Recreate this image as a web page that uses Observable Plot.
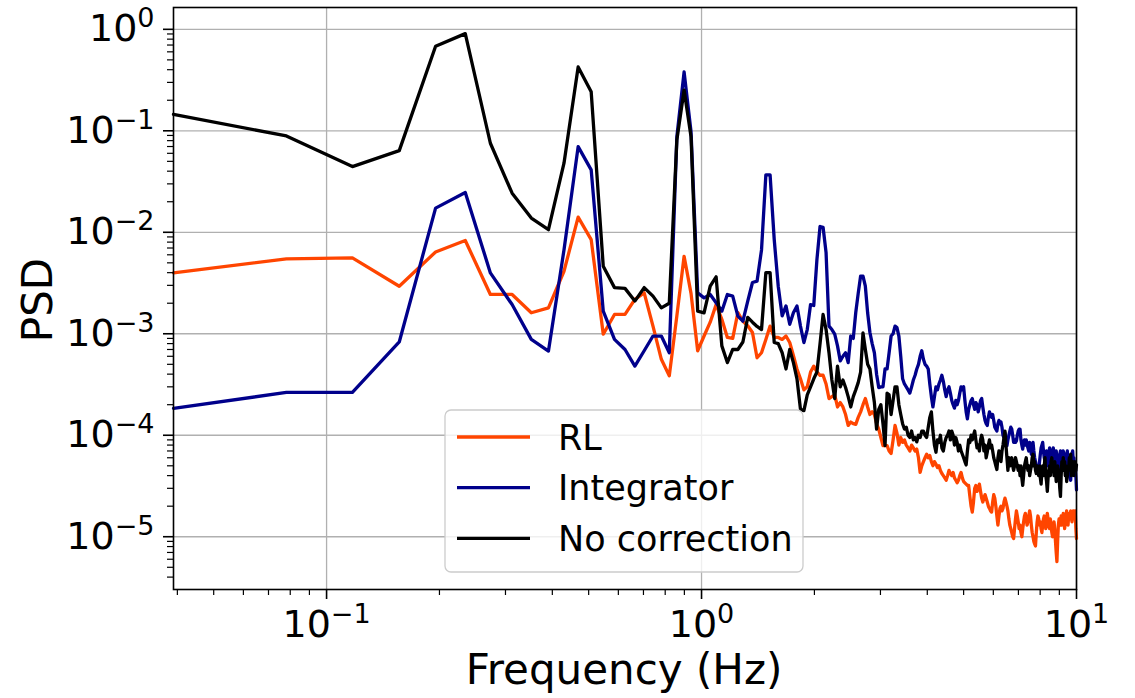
<!DOCTYPE html>
<html><head><meta charset="utf-8">
<script src="https://cdn.jsdelivr.net/npm/d3@7"></script>
<script src="https://cdn.jsdelivr.net/npm/@observablehq/plot@0.6"></script>
<style>
body{margin:0;background:#fff}
#chart{position:relative;width:1135px;height:698px}
</style>
</head><body><div id="chart"></div>
<script>
// frequency resolution of the PSD bins (Hz); bins k = 1..256
const df = 0.0390625;

const seriesNames = ["RL", "Integrator", "No correction"];
const seriesColors = ["#ff4500", "#00008b", "#000000"];
const xMajorTicks = [0.1, 1, 10];
const xMinorTicks = [0.04,0.05,0.06,0.07,0.08,0.09,0.2,0.3,0.4,0.5,0.6,0.7,0.8,0.9,2,3,4,5,6,7,8,9];
const yMajorTicks = [1, 1e-1, 1e-2, 1e-3, 1e-4, 1e-5];
const yMinorTicks = [4e-6,5e-6,6e-6,7e-6,8e-6,9e-6,2e-5,3e-5,4e-5,5e-5,6e-5,7e-5,8e-5,9e-5,2e-4,3e-4,4e-4,5e-4,6e-4,7e-4,8e-4,9e-4,2e-3,3e-3,4e-3,5e-3,6e-3,7e-3,8e-3,9e-3,0.02,0.03,0.04,0.05,0.06,0.07,0.08,0.09,0.2,0.3,0.4,0.5,0.6,0.7,0.8,0.9];

const rl = [
3.98e-3,5.47e-3,5.59e-3,2.94e-3,6.4e-3,8.3e-3,2.44e-3,2.44e-3,1.61e-3,1.8e-3,
4.13e-3,1.41e-2,8.46e-3,9.9e-4,1.55e-3,1.55e-3,2.18e-3,2.53e-3,1.19e-3,5.6e-4,
3.85e-4,1.5e-3,5.8e-3,2.5e-3,6.8e-4,9.5e-4,1.3e-3,1.94e-3,1.39e-3,9.2e-4,
9.0e-4,1.62e-3,1.33e-3,1.2e-3,1.03e-3,5.8e-4,6.5e-4,8.8e-4,1.19e-3,9.2e-4,
9.2e-4,8.8e-4,9.5e-4,8.2e-4,6.1e-4,4.5e-4,3.6e-4,2.8e-4,3.0e-4,4.2e-4,
4.8e-4,4.2e-4,3.9e-4,3.9e-4,3.2e-4,2.3e-4,2.4e-4,2.5e-4,1.9e-4,2.1e-4,
1.9e-4,1.6e-4,1.25e-4,1.35e-4,1.3e-4,1.28e-4,1.5e-4,1.7e-4,2.0e-4,2.3e-4,
1.9e-4,1.6e-4,1.7e-4,1.6e-4,1.3e-4,1.15e-4,9.5e-5,7.9e-5,7.9e-5,7.9e-5,
7.0e-5,6.6e-5,9.0e-5,1.25e-4,1.05e-4,8.0e-5,9.5e-5,8.5e-5,9.0e-5,8.0e-5,
7.5e-5,7.0e-5,8.0e-5,7.5e-5,7.0e-5,7.3e-5,6.0e-5,4.3e-5,5.0e-5,5.5e-5,
6.0e-5,6.5e-5,6.0e-5,6.3e-5,5.5e-5,5.0e-5,5.5e-5,5.2e-5,4.8e-5,5.0e-5,
4.5e-5,4.2e-5,4.0e-5,3.8e-5,3.6e-5,4.0e-5,4.5e-5,4.2e-5,4.0e-5,4.3e-5,
3.8e-5,3.6e-5,3.4e-5,3.6e-5,4.0e-5,4.3e-5,3.8e-5,3.5e-5,3.4e-5,3.3e-5,
3.2e-5,3.2e-5,2.5e-5,2.0e-5,1.75e-5,2.2e-5,3.0e-5,3.2e-5,2.8e-5,3.0e-5,
3.3e-5,2.8e-5,2.4e-5,2.2e-5,2.4e-5,2.6e-5,2.4e-5,2.2e-5,2.0e-5,1.9e-5,
1.8e-5,1.75e-5,2.2e-5,2.6e-5,2.4e-5,2.0e-5,1.6e-5,1.3e-5,1.6e-5,1.9e-5,
2.0e-5,1.8e-5,1.9e-5,2.2e-5,2.4e-5,2.2e-5,2.0e-5,1.8e-5,1.5e-5,1.3e-5,
1.2e-5,1.1e-5,1.0e-5,9.6e-6,1.2e-5,1.5e-5,1.8e-5,1.6e-5,1.4e-5,1.2e-5,
1.3e-5,1.1e-5,1.0e-5,1.2e-5,1.4e-5,1.6e-5,1.7e-5,1.5e-5,1.3e-5,1.4e-5,
1.6e-5,1.8e-5,1.6e-5,1.3e-5,1.1e-5,1.0e-5,9.0e-6,8.5e-6,8.1e-6,1.1e-5,
1.4e-5,1.6e-5,1.5e-5,1.3e-5,1.4e-5,1.2e-5,1.1e-5,1.3e-5,1.5e-5,1.6e-5,
1.4e-5,1.2e-5,1.5e-5,1.7e-5,1.5e-5,1.3e-5,1.2e-5,1.5e-5,1.3e-5,1.1e-5,
1.0e-5,1.2e-5,1.4e-5,1.2e-5,9.0e-6,7.0e-6,5.7e-6,9.0e-6,1.3e-5,1.5e-5,
1.3e-5,1.4e-5,1.6e-5,1.3e-5,1.5e-5,1.7e-5,1.5e-5,1.2e-5,1.4e-5,1.6e-5,
1.8e-5,1.5e-5,1.3e-5,1.6e-5,1.7e-5,1.5e-5,1.8e-5,1.6e-5,1.4e-5,1.7e-5,
1.8e-5,1.5e-5,1.7e-5,1.8e-5,1.2e-5,9.6e-6
];

const integrator = [
1.84e-4,2.64e-4,2.64e-4,8.3e-4,1.73e-2,2.47e-2,3.98e-3,1.94e-3,8.8e-4,6.76e-4,
6.7e-3,6.98e-2,4.12e-2,1.67e-3,8.8e-4,7.0e-4,4.8e-4,6.8e-4,9.5e-4,9.5e-4,
6.5e-4,8.75e-2,3.81e-1,9.8e-2,2.53e-3,2.26e-3,2.44e-3,2.02e-3,1.67e-3,2.44e-3,
2.35e-3,1.49e-3,1.33e-3,2.1e-3,3.2e-3,3.3e-3,6.7e-3,3.68e-2,3.68e-2,8.5e-3,
2.94e-3,1.5e-3,1.88e-3,1.24e-3,1.61e-3,1.88e-3,1.19e-3,8.2e-4,1.1e-3,1.94e-3,
1.9e-3,5.4e-3,1.14e-2,1.12e-2,6.3e-3,1.19e-3,1.1e-3,9.9e-4,7.6e-4,5.4e-4,
6.0e-4,6.5e-4,5.2e-4,9.5e-4,9.0e-4,1.62e-3,2.5e-3,3.7e-3,3.7e-3,2.94e-3,
1.6e-3,1.03e-3,8.0e-4,6.5e-4,4.0e-4,2.95e-4,3.0e-4,3.0e-4,4.5e-4,4.5e-4,
6.5e-4,9.5e-4,1.0e-3,1.19e-3,1.15e-3,9.5e-4,6.0e-4,3.6e-4,3.2e-4,3.0e-4,
2.8e-4,2.6e-4,3.0e-4,3.5e-4,3.9e-4,4.5e-4,5.0e-4,6.0e-4,6.8e-4,5.6e-4,
5.0e-4,4.8e-4,4.5e-4,3.2e-4,2.4e-4,1.9e-4,2.4e-4,3.0e-4,2.8e-4,3.2e-4,
3.5e-4,3.9e-4,3.4e-4,2.8e-4,2.4e-4,2.8e-4,3.0e-4,2.6e-4,2.2e-4,2.0e-4,
1.85e-4,2.2e-4,2.0e-4,2.2e-4,2.6e-4,3.0e-4,2.8e-4,3.0e-4,2.2e-4,1.7e-4,
1.45e-4,1.8e-4,2.0e-4,2.2e-4,2.3e-4,2.0e-4,1.8e-4,2.1e-4,2.0e-4,1.7e-4,
1.9e-4,2.2e-4,2.3e-4,1.9e-4,1.6e-4,1.4e-4,1.3e-4,1.25e-4,1.5e-4,1.7e-4,
1.6e-4,1.5e-4,1.6e-4,1.4e-4,1.2e-4,1.15e-4,1.1e-4,1.3e-4,1.4e-4,1.3e-4,
1.35e-4,1.2e-4,1.0e-4,9.5e-5,1.05e-4,9.0e-5,7.9e-5,9.0e-5,1.0e-4,1.1e-4,
1.2e-4,1.15e-4,1.0e-4,8.5e-5,9.0e-5,8.5e-5,8.8e-5,1.0e-4,1.1e-4,1.15e-4,
1.15e-4,9.0e-5,8.0e-5,7.3e-5,8.5e-5,9.0e-5,8.0e-5,9.0e-5,8.0e-5,7.5e-5,
7.0e-5,8.5e-5,7.5e-5,6.5e-5,7.5e-5,8.5e-5,7.0e-5,6.0e-5,5.5e-5,5.0e-5,
4.6e-5,4.5e-5,4.3e-5,5.5e-5,6.5e-5,7.5e-5,8.0e-5,8.5e-5,7.0e-5,6.0e-5,
5.5e-5,6.5e-5,7.0e-5,6.0e-5,5.0e-5,6.0e-5,7.5e-5,7.0e-5,6.0e-5,5.5e-5,
6.5e-5,7.5e-5,6.5e-5,5.5e-5,6.0e-5,7.0e-5,6.0e-5,5.0e-5,4.5e-5,5.5e-5,
6.5e-5,7.0e-5,6.0e-5,5.0e-5,6.0e-5,7.0e-5,6.5e-5,5.5e-5,4.5e-5,5.0e-5,
6.5e-5,7.0e-5,5.0e-5,4.5e-5,4.0e-5,3.8e-5,3.6e-5,5.0e-5,6.5e-5,7.0e-5,
5.5e-5,6.0e-5,4.5e-5,5.5e-5,4.0e-5,2.9e-5
];

const noCorrection = [
1.45e-1,8.9e-2,4.44e-2,6.38e-2,6.8e-1,9.07e-1,7.54e-2,2.43e-2,1.38e-2,1.06e-2,
4.8e-2,4.26e-1,2.42e-1,4.62e-3,2.85e-3,2.8e-3,2.1e-3,2.85e-3,2.35e-3,1.8e-3,
2.0e-3,8.1e-2,2.52e-1,8.75e-2,1.67e-3,1.61e-3,2.94e-3,3.64e-3,7.6e-4,5.2e-4,
7.0e-4,7.0e-4,8.3e-4,1.45e-3,1.3e-3,1.18e-3,1.1e-3,4.0e-3,4.0e-3,8.2e-4,
8.0e-4,6.5e-4,4.5e-4,7.0e-4,5.2e-4,3.6e-4,1.8e-4,1.75e-4,2.5e-4,3.0e-4,
3.6e-4,4.2e-4,8.0e-4,1.55e-3,1.1e-3,6.5e-4,3.5e-4,2.3e-4,4.8e-4,3.0e-4,
3.5e-4,2.95e-4,2.4e-4,1.9e-4,2.4e-4,2.8e-4,3.3e-4,4.2e-4,1.02e-3,7.0e-4,
5.0e-4,4.5e-4,3.0e-4,2.1e-4,1.15e-4,1.8e-4,2.0e-4,1.3e-4,7.9e-5,2.6e-4,
2.5e-4,1.6e-4,2.2e-4,3.0e-4,3.0e-4,2.0e-4,1.6e-4,1.3e-4,1.15e-4,1.2e-4,
1.0e-4,9.5e-5,1.1e-4,9.0e-5,9.5e-5,8.6e-5,1.0e-4,9.5e-5,1.1e-4,1.1e-4,
1.0e-4,9.5e-5,1.2e-4,1.5e-4,1.7e-4,1.1e-4,8.0e-5,6.8e-5,9.0e-5,8.5e-5,
1.0e-4,7.5e-5,7.0e-5,8.5e-5,9.5e-5,1.0e-4,1.1e-4,9.0e-5,1.1e-4,1.0e-4,
8.0e-5,9.5e-5,8.5e-5,7.0e-5,8.0e-5,7.0e-5,6.5e-5,6.0e-5,5.5e-5,5.1e-5,
7.0e-5,9.0e-5,8.5e-5,1.0e-4,9.0e-5,1.0e-4,1.1e-4,9.0e-5,7.5e-5,8.0e-5,
7.0e-5,9.0e-5,1.0e-4,9.0e-5,7.0e-5,8.0e-5,6.0e-5,6.8e-5,8.0e-5,9.0e-5,
7.5e-5,8.0e-5,7.0e-5,6.0e-5,5.5e-5,5.0e-5,4.6e-5,6.0e-5,7.0e-5,6.5e-5,
5.5e-5,7.0e-5,8.0e-5,9.5e-5,1.1e-4,8.0e-5,6.0e-5,4.5e-5,6.0e-5,5.0e-5,
5.5e-5,6.0e-5,5.0e-5,4.5e-5,5.0e-5,6.0e-5,5.5e-5,5.0e-5,4.5e-5,5.0e-5,
4.0e-5,5.0e-5,3.8e-5,3.2e-5,4.0e-5,5.0e-5,5.5e-5,6.0e-5,5.0e-5,4.5e-5,
5.0e-5,4.0e-5,4.5e-5,5.0e-5,6.0e-5,6.5e-5,5.0e-5,5.5e-5,4.5e-5,4.2e-5,
5.0e-5,4.5e-5,4.0e-5,5.0e-5,3.8e-5,3.3e-5,4.5e-5,5.0e-5,4.0e-5,5.0e-5,
6.0e-5,4.0e-5,3.5e-5,2.8e-5,3.8e-5,4.5e-5,5.0e-5,4.0e-5,5.5e-5,6.0e-5,
4.5e-5,5.0e-5,4.0e-5,5.5e-5,4.5e-5,3.5e-5,4.0e-5,5.0e-5,4.5e-5,4.0e-5,
3.0e-5,2.5e-5,4.0e-5,5.5e-5,5.0e-5,6.0e-5,4.5e-5,5.5e-5,4.0e-5,5.0e-5,
3.5e-5,4.0e-5,5.0e-5,4.5e-5,6.0e-5,5.0e-5,6.5e-5,4.0e-5,5.0e-5,5.5e-5,
4.5e-5,4.0e-5,5.5e-5,5.0e-5,4.5e-5,5.1e-5
];

const seriesValues = [rl, integrator, noCorrection];
const data = [];
seriesNames.forEach((name, i) => {
  seriesValues[i].forEach((v, j) => data.push({series: name, f: (j + 1) * df, psd: v}));
});

const FONT = "'DejaVu Sans', sans-serif";
const expText = d => { const e = Math.round(Math.log10(d)); return e < 0 ? "\u2212" + (-e) : String(e); };

const chart = Plot.plot({
  width: 1135, height: 698,
  marginLeft: 173, marginRight: 59, marginTop: 7, marginBottom: 109,
  style: {fontFamily: FONT, background: "white", color: "black", overflow: "visible"},
  x: {type: "log", domain: [df, 10]},
  y: {type: "log", domain: [Math.pow(10, -5.52), Math.pow(10, 0.215)]},
  color: {domain: seriesNames, range: seriesColors},
  marks: [
    Plot.gridX(xMajorTicks, {stroke: "#b0b0b0", strokeOpacity: 1, strokeWidth: 1.3}),
    Plot.gridY(yMajorTicks, {stroke: "#b0b0b0", strokeOpacity: 1, strokeWidth: 1.3}),
    Plot.line(data, {x: "f", y: "psd", z: "series", stroke: "series", strokeWidth: 3.3, strokeLinejoin: "round"}),
    Plot.axisX(xMinorTicks, {tickSize: 6, strokeWidth: 1.2, tickFormat: () => "", label: null}),
    Plot.axisX(xMajorTicks, {tickSize: 10, strokeWidth: 1.6, tickPadding: 11, fontSize: 38, tickFormat: expText, label: null}),
    Plot.axisY(yMinorTicks, {tickSize: 6, strokeWidth: 1.2, tickFormat: () => "", label: null}),
    Plot.axisY(yMajorTicks, {tickSize: 10, strokeWidth: 1.6, tickPadding: 9, fontSize: 38, tickFormat: expText, label: null}),
    Plot.frame({stroke: "black", strokeWidth: 1.6})
  ]
});

// turn exponent labels into 10 with superscript
const SVGNS = "http://www.w3.org/2000/svg";
chart.querySelectorAll('g[aria-label$="tick label"] text').forEach(t => {
  const ex = t.textContent;
  if (!ex) return;
  t.textContent = "";
  const base = document.createElementNS(SVGNS, "tspan");
  base.textContent = "10";
  const sup = document.createElementNS(SVGNS, "tspan");
  sup.textContent = ex;
  sup.setAttribute("font-size", "27");
  sup.setAttribute("dy", "-14");
  t.appendChild(base); t.appendChild(sup);
});

const svg = d3.select(chart);
// axis titles
svg.append("text").attr("x", 624).attr("y", 684).attr("text-anchor", "middle")
  .attr("font-family", FONT).attr("font-size", 42).attr("fill", "black").text("Frequency (Hz)");
svg.append("text").attr("transform", "translate(52,300) rotate(-90)").attr("text-anchor", "middle")
  .attr("font-family", FONT).attr("font-size", 42).attr("fill", "black").text("PSD");

// legend
const lg = svg.append("g").attr("text-anchor", "start");
lg.append("rect").attr("x", 445).attr("y", 410).attr("width", 358).attr("height", 162).attr("rx", 6)
  .attr("fill", "white").attr("fill-opacity", 0.8).attr("stroke", "#cccccc").attr("stroke-width", 1.3);
seriesNames.forEach((name, i) => {
  const yy = 437 + 50.7 * i;
  lg.append("line").attr("x1", 457).attr("x2", 530).attr("y1", yy).attr("y2", yy)
    .attr("stroke", seriesColors[i]).attr("stroke-width", 3.3);
  lg.append("text").attr("x", 558).attr("y", yy + 12.5).attr("text-anchor", "start").attr("font-family", FONT)
    .attr("font-size", 35).attr("fill", "black").text(name);
});

document.getElementById("chart").appendChild(chart);
</script>
</body></html>
